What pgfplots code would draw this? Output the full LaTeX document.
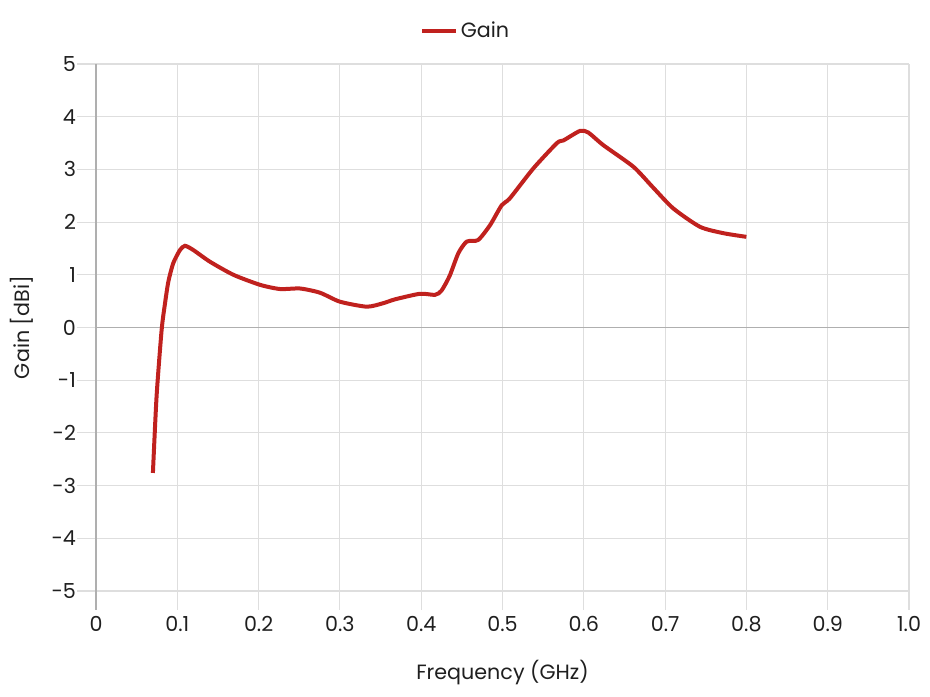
\documentclass[border=0pt]{standalone}
\usepackage{fontspec}
\setmainfont{Poppins}
\usepackage{pgfplots}
\pgfplotsset{compat=1.18}
\definecolor{gaincol}{RGB}{192,33,30}
\definecolor{gridcol}{RGB}{222,222,222}
\definecolor{zerocol}{RGB}{175,175,175}
\begin{document}
\begin{tikzpicture}
\begin{axis}[
  name=ax,
  scale only axis,
  width=609.75pt, height=395.25pt,
  xmin=0, xmax=1, ymin=-5, ymax=5,
  xtick={0,0.1,...,1.0},
  xticklabels={0,0.1,0.2,0.3,0.4,0.5,0.6,0.7,0.8,0.9,1.0},
  ytick={-5,-4,...,5},
  yticklabels={-5,-4,-3,-2,-1,0,1,2,3,4,5},
  tick label style={font=\fontsize{15.5}{18}\selectfont, text=black!88},
  label style={font=\fontsize{15.5}{18}\selectfont, text=black!88},
  grid=major,
  major grid style={draw=gridcol, line width=0.8pt},
  axis line style={draw=none},
  tick pos=left,
  tick align=outside,
  major tick length=14pt,
  tick style={draw=gridcol, line width=0.8pt},
  xticklabel style={yshift=-1.5pt},
  yticklabel style={xshift=2.5pt},
  xlabel={Frequency (GHz)},
  ylabel={Gain [dBi]},
  xlabel style={at={(axis description cs:0.5,0)}, anchor=center, yshift=-61.5pt},
  ylabel style={at={(axis description cs:0,0.5)}, anchor=center, yshift=55.5pt},
  legend style={at={(0.455,1)}, anchor=center, yshift=24.75pt, draw=none, fill=none,
    font=\fontsize{15.5}{18}\selectfont, text=black!88},
  legend cell align=left,
  legend image code/.code={\draw[#1, line width=3pt] (0cm,0cm) -- (0.9cm,0cm);},
]
\draw[zerocol, line width=1pt] (axis cs:0,0) -- (axis cs:1,0);
\addplot[gaincol, line width=3pt, smooth, tension=0.4] coordinates {
(0.070,-2.76)
(0.0745,-1.31)
(0.0807,-0.05)
(0.0849,0.46)
(0.089,0.87)
(0.095,1.22)
(0.1033,1.47)
(0.1095,1.55)
(0.1197,1.47)
(0.140,1.25)
(0.169,1.00)
(0.2017,0.81)
(0.2263,0.73)
(0.251,0.74)
(0.2755,0.66)
(0.300,0.49)
(0.333,0.395)
(0.353,0.46)
(0.368,0.535)
(0.3985,0.64)
(0.417,0.62)
(0.425,0.70)
(0.435,0.98)
(0.4457,1.41)
(0.456,1.63)
(0.470,1.66)
(0.4846,1.94)
(0.499,2.32)
(0.509,2.45)
(0.538,3.02)
(0.567,3.50)
(0.575,3.55)
(0.5953,3.73)
(0.6055,3.70)
(0.624,3.46)
(0.661,3.05)
(0.685,2.66)
(0.710,2.26)
(0.743,1.91)
(0.7716,1.79)
(0.800,1.72)
};
\addlegendentry{Gain}
\end{axis}
\draw[zerocol, line width=1pt] (ax.north west) -- (ax.south west) -- ++(0,-14pt);
\path (ax.south west) ++(-72pt,-78.75pt) coordinate (bl);
\path (ax.north east) ++(15.75pt,48pt) coordinate (tr);
\path (bl) rectangle (tr);
\end{tikzpicture}
\end{document}
